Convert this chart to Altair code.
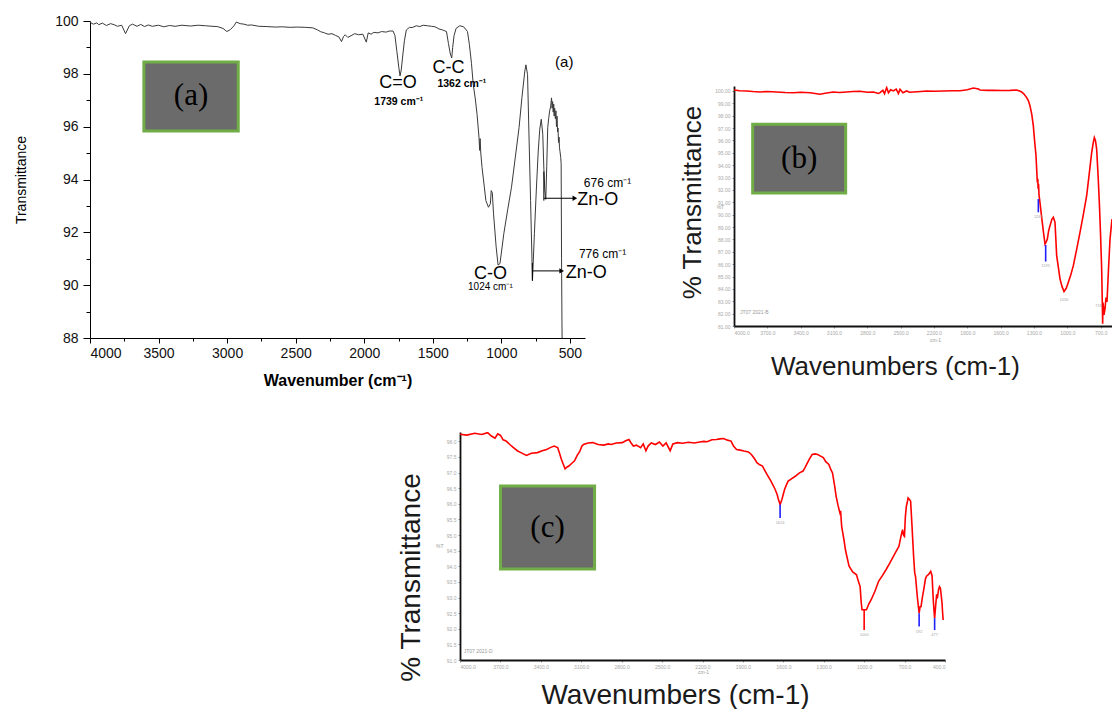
import altair as alt
import pandas as pd

SANS = "Liberation Sans"
SERIF = "Liberation Serif"
RED = "#ff0000"
BLUE = "#2020ff"
BOX_FILL = "#6b6b6b"
BOX_EDGE = "#70ad47"
TINY = "#a8a8a8"

# ---------------- (a) ZnO spectrum: wavenumber (cm-1) / transmittance (%) ----------------
a_wn = [4000, 3975, 3950, 3936, 3910, 3880, 3850, 3824, 3800, 3769, 3741, 3713, 3690, 3657,
        3630, 3602, 3575, 3546, 3500, 3462, 3420, 3379, 3330, 3267, 3210, 3156, 3110, 3072,
        3030, 3002, 2975, 2950, 2933, 2905, 2877, 2850, 2821, 2770, 2710, 2650, 2598, 2540,
        2487, 2430, 2375, 2340, 2320, 2290, 2264, 2235, 2208, 2185, 2166, 2150, 2139, 2120,
        2097, 2070, 2041, 2010, 1985, 1971, 1950, 1930, 1900, 1874, 1840, 1818, 1790, 1776,
        1762, 1748, 1739, 1730, 1721, 1707, 1693, 1670, 1651, 1620, 1595, 1570, 1539, 1510,
        1484, 1455, 1428, 1400, 1386, 1372, 1362, 1355, 1345, 1330, 1303, 1275, 1247, 1233,
        1218, 1205, 1190, 1177, 1163, 1158, 1155, 1150, 1141, 1124, 1113, 1094, 1080, 1074,
        1066, 1057, 1038, 1024, 1010, 982, 954, 926, 898, 871, 850, 829, 821, 809, 801, 787,
        773, 759, 745, 731, 720, 709, 698, 690, 683, 676, 669, 662, 655, 648, 641, 634, 630,
        626, 622, 618, 615, 611, 606, 602, 598, 594, 590, 587, 583, 579, 576, 572, 567, 564,
        561, 558, 556]
a_tr = [99.95, 99.88, 99.93, 99.86, 99.92, 99.83, 99.90, 99.86, 99.80, 99.84, 99.52, 99.82, 99.88, 99.80,
        99.87, 99.79, 99.85, 99.80, 99.84, 99.78, 99.83, 99.80, 99.84, 99.81, 99.84, 99.82, 99.80, 99.79,
        99.72, 99.60, 99.68, 99.82, 99.96, 99.90, 99.88, 99.84, 99.85, 99.80, 99.79, 99.77, 99.78, 99.76,
        99.77, 99.76, 99.74, 99.66, 99.60, 99.55, 99.50, 99.52, 99.45, 99.40, 99.22, 99.42, 99.48, 99.38,
        99.44, 99.52, 99.48, 99.50, 99.20, 99.55, 99.50, 99.57, 99.55, 99.60, 99.58, 99.62, 99.62, 99.45,
        98.85, 98.25, 97.92, 98.15, 98.60, 99.25, 99.66, 99.76, 99.75, 99.82, 99.79, 99.84, 99.82, 99.80,
        99.78, 99.70, 99.66, 99.60, 99.15, 98.75, 98.60, 99.00, 99.45, 99.72, 99.82, 99.78, 99.60, 99.10,
        98.40, 97.60, 97.05, 96.46, 95.59, 95.10, 95.55, 95.00, 94.46, 93.71, 93.20, 92.95, 93.08, 93.58,
        93.50, 92.70, 91.45, 90.76, 90.82, 91.95, 92.85, 93.71, 94.85, 95.96, 97.10, 98.10, 98.34, 97.97,
        96.21, 93.20,
        90.19, 91.95, 93.60, 95.08, 95.90, 96.28, 95.71, 94.40, 93.60, 93.25, 94.50, 95.96, 96.30, 96.59,
        96.75, 97.09, 96.70,
        96.95, 96.55, 96.85, 96.40, 96.70, 96.30, 96.60, 96.00, 96.40, 95.80, 95.95, 95.40, 95.60, 95.20,
        95.05, 94.83, 94.60,
        91.00, 88.60, 87.50]

# (a) band annotations
a_note_text = ["C=O", "C-C", "C-O", "1024 cm⁻¹", "(a)", "676 cm⁻¹", "Zn-O", "776 cm⁻¹", "Zn-O"]
a_note_wn = [1754, 1386, 1080, 1080, 541, 226, 297, 262, 381]
a_note_tr = [97.65, 98.22, 90.42, 89.93, 98.45, 93.87, 93.22, 91.19, 90.47]
a_note_size = [18, 18, 18, 10, 15, 12, 18, 12, 18]
a_bold_text = ["1739 cm⁻¹", "1362 cm⁻¹"]
a_bold_wn = [1748, 1288]
a_bold_tr = [96.93, 97.61]

# (a) arrows from the Zn-O bands to their labels
a_seg_wn = [690, 690, 774, 774]
a_seg_wn2 = [690, 470, 774, 566]
a_seg_tr = [94.30, 93.29, 90.84, 90.54]
a_seg_tr2 = [93.20, 93.29, 90.16, 90.54]
a_head_wn = [464, 560]
a_head_tr = [93.29, 90.54]

# ---------------- (b) spectrum ----------------
b_wn = [4000, 3950, 3886, 3830, 3766, 3700, 3616, 3540, 3466, 3400, 3316, 3270, 3226, 3180,
        3106, 3050, 2986, 2930, 2866, 2800, 2746, 2700, 2686, 2660, 2645, 2626, 2610, 2590,
        2566, 2540, 2520, 2506, 2480, 2446, 2420, 2386, 2320, 2266, 2200, 2116, 2040, 1966,
        1900, 1846, 1800, 1786, 1720, 1666, 1590, 1516, 1456, 1430, 1411, 1390, 1366, 1350,
        1336, 1320, 1306, 1295, 1282, 1270, 1266, 1263, 1259, 1255, 1245, 1231, 1215, 1201,
        1190, 1180, 1168, 1156, 1140, 1126, 1111, 1096, 1080, 1066, 1048, 1030, 1010, 991,
        970, 946, 916, 886, 856, 826, 803, 781, 767, 757, 747, 736, 724, 712, 701, 691, 686,
        682, 679, 676, 670, 661, 652, 643, 630, 616, 598]
b_tr = [100.08, 100.02, 100.00, 99.95, 99.92, 99.95, 99.92, 99.88, 99.86, 99.90, 99.86, 99.80, 99.73, 99.82,
        99.92, 99.88, 99.92, 99.95, 99.97, 99.90, 99.92, 99.80, 99.86, 100.05, 99.78, 100.27, 99.85, 100.10,
        100.00, 100.15, 99.80, 100.13, 99.85, 100.00, 99.90, 99.92, 99.96, 100.00, 99.98, 100.00, 100.02, 100.02,
        100.10, 100.24, 100.15, 100.08, 100.05, 100.05, 100.04, 100.05, 100.08, 100.00, 99.92, 99.75, 99.46, 99.20,
        98.79, 98.10, 97.17, 96.00, 94.76, 92.61, 92.90, 92.10, 92.50, 91.60, 90.90, 89.78, 88.60, 87.63,
        87.80, 88.03, 88.70, 89.11, 89.60, 89.78, 89.38, 86.69, 85.70, 84.81, 84.20, 83.79, 84.05, 84.54,
        85.10, 85.88, 87.20, 88.57, 90.00, 91.53, 93.30, 95.02, 95.80, 96.23, 96.00, 95.29, 93.30, 90.99, 88.40, 85.62, 83.20,
        81.18, 82.90, 82.66, 81.90, 82.39, 83.30, 82.95, 85.50, 88.00, 89.65]

# (b) picked peaks
b_pk_wn = [1261, 1195]
b_pk_top = [91.26, 87.55]
b_pk_bot = [90.19, 86.21]
b_pk_label_wn = [1261, 1195, 1030, 718]
b_pk_label_tr = [89.97, 86.00, 83.25, 82.80]

# ---------------- (c) spectrum ----------------
c_wn = [4000, 3950, 3890, 3840, 3795, 3767, 3740, 3720, 3699, 3680, 3658, 3630, 3603, 3575,
        3548, 3507, 3470, 3425, 3390, 3357, 3330, 3302, 3275, 3260, 3247, 3232, 3220, 3205,
        3192, 3170, 3151, 3130, 3110, 3095, 3083, 3050, 3014, 2975, 2932, 2900, 2878, 2840,
        2795, 2770, 2746, 2730, 2713, 2690, 2659, 2640, 2620, 2604, 2580, 2549, 2520, 2494,
        2470, 2440, 2420, 2385, 2350, 2303, 2260, 2221, 2190, 2166, 2130, 2097, 2070, 2043,
        2015, 1988, 1970, 1947, 1920, 1892, 1860, 1837, 1815, 1796, 1775, 1755, 1735, 1714,
        1695, 1673, 1660, 1646, 1635, 1624, 1610, 1591, 1578, 1564, 1540, 1509, 1480, 1454,
        1440, 1427, 1405, 1386, 1365, 1345, 1320, 1303, 1285, 1262, 1248, 1235, 1220, 1208,
        1194, 1180, 1175, 1167, 1150, 1139, 1125, 1112, 1085, 1057, 1045, 1030, 1022, 1016,
        1000, 983, 965, 948, 920, 893, 865, 838, 810, 783, 760, 742, 725, 715, 708, 701,
        694, 687, 680, 674, 665, 655, 645, 633, 625, 619, 605, 592, 585, 578, 567, 556,
        545, 537, 520, 506, 496, 488, 482, 477, 472, 468, 462, 455, 448, 441, 434, 427,
        422, 419, 414]
c_tr = [98.23, 98.20, 98.26, 98.22, 98.28, 98.17, 98.10, 98.24, 98.19, 98.05, 98.01, 97.90, 97.80, 97.70,
        97.64, 97.55, 97.62, 97.64, 97.70, 97.74, 97.80, 97.85, 97.80, 97.60, 97.42, 97.25, 97.12, 97.18,
        97.21, 97.30, 97.37, 97.55, 97.69, 97.85, 97.90, 97.95, 97.96, 97.90, 97.88, 97.92, 97.90, 97.95,
        97.96, 98.02, 98.06, 97.95, 97.85, 97.88, 97.80, 97.92, 97.70, 97.85, 97.95, 97.90, 97.98, 97.85,
        97.95, 97.70, 97.92, 97.96, 97.94, 97.97, 97.95, 97.98, 98.00, 97.99, 98.05, 98.06, 98.08, 98.09,
        98.04, 98.01, 97.85, 97.74, 97.72, 97.69, 97.66, 97.58, 97.45, 97.32, 97.25, 97.21, 97.05, 96.89,
        96.75, 96.57, 96.45, 96.30, 96.12, 95.98, 96.15, 96.46, 96.60, 96.73, 96.80, 96.89, 96.99, 97.05,
        97.15, 97.26, 97.45, 97.58, 97.60, 97.58, 97.52, 97.48, 97.35, 97.26, 97.10, 96.99, 96.60, 96.24,
        95.95, 95.71, 95.78, 95.28, 94.85, 94.53, 94.25, 94.00, 93.82, 93.73, 93.55, 93.35, 92.85, 92.61,
        92.61, 92.61, 92.80, 92.93, 93.20, 93.52, 93.70, 93.89, 94.10, 94.32, 94.50, 94.64, 95.00, 95.17, 95.00, 94.96,
        95.60, 95.92, 96.05, 96.19, 96.15, 96.08, 95.30, 94.32, 93.80, 93.68, 93.00, 92.50, 92.70, 92.71, 93.03, 93.30,
        93.60, 93.68, 93.75, 93.84, 93.70, 93.00, 92.60, 92.34, 92.60, 92.80, 93.10, 93.03, 93.25, 93.35, 93.30, 93.03,
        92.82, 92.60, 92.28]

# (c) picked peaks
c_pk_wn = [1624, 1000, 592, 477]
c_pk_top = [95.98, 92.61, 92.50, 92.34]
c_pk_bot = [95.55, 91.96, 92.07, 91.96]
c_pk_color = [BLUE, RED, BLUE, BLUE]
c_pk_label_tr = [95.45, 91.86, 91.97, 91.86]

# ---------------- helpers ----------------
def xenc(domain, axis):
    return alt.X("wn:Q", scale=alt.Scale(domain=domain, nice=False, zero=False), axis=axis)


def yenc(domain, axis):
    return alt.Y("tr:Q", scale=alt.Scale(domain=domain, nice=False, zero=False), axis=axis)


def box_layers(x, y, wn1, wn2, t1, t2, label):
    box = alt.Chart(pd.DataFrame({"wn": [wn1], "wn2": [wn2], "tr": [t1], "tr2": [t2]})).mark_rect(
        fill=BOX_FILL, stroke=BOX_EDGE, strokeWidth=3
    ).encode(x=x, x2="wn2:Q", y=y, y2="tr2:Q")
    txt = alt.Chart(pd.DataFrame({"wn": [(wn1 + wn2) / 2], "tr": [(t1 + t2) / 2], "s": [label]})).mark_text(
        font=SERIF, fontSize=31, color="#000000", align="center", baseline="middle"
    ).encode(x=x, y=y, text="s:N")
    return [box, txt]


# ---------------- panel (a) ----------------
A_DOM_X = [4000, 390]
A_DOM_Y = [88, 100]
ax_a = alt.Axis(
    values=list(range(4000, 499, -250)),
    labelExpr="datum.value % 500 === 0 ? datum.label : ''",
    tickSize={"condition": {"test": "datum.value % 500 === 0", "value": 5}, "value": 3},
    format="d", labelFontSize=14, labelColor="#111111", labelPadding=3, labelFont=SANS,
    domainColor="#000000", tickColor="#000000", grid=False,
    title="Wavenumber (cm⁻¹)", titleFont=SANS, titleFontSize=16, titleFontWeight="bold",
    titleColor="#000000", titlePadding=12,
)
ay_a = alt.Axis(
    values=list(range(88, 101)),
    labelExpr="datum.value % 2 === 0 ? datum.label : ''",
    tickSize={"condition": {"test": "datum.value % 2 === 0", "value": 7}, "value": 4},
    format="d", labelFontSize=14, labelColor="#111111", labelPadding=5, labelFont=SANS,
    domainColor="#000000", tickColor="#000000", grid=False,
    title="Transmittance", titleFont=SANS, titleFontSize=14, titleFontWeight="normal",
    titleColor="#000000", titlePadding=26,
)
xa = xenc(A_DOM_X, ax_a)
ya = yenc(A_DOM_Y, ay_a)

df_a = pd.DataFrame({"wn": a_wn, "tr": a_tr, "i": list(range(len(a_wn)))})
a_line = alt.Chart(df_a).mark_line(color="#3a3a3a", strokeWidth=1, clip=True).encode(
    x=xa, y=ya, order="i:Q")
a_notes = alt.Chart(pd.DataFrame({"wn": a_note_wn, "tr": a_note_tr, "s": a_note_text, "fs": a_note_size})).mark_text(
    font=SANS, color="#000000", align="center", baseline="middle"
).encode(x=xa, y=ya, text="s:N", size=alt.Size("fs:Q", scale=None))
a_bold = alt.Chart(pd.DataFrame({"wn": a_bold_wn, "tr": a_bold_tr, "s": a_bold_text})).mark_text(
    font=SANS, fontSize=10.5, fontWeight="bold", color="#000000", align="center", baseline="middle"
).encode(x=xa, y=ya, text="s:N")
a_segs = alt.Chart(pd.DataFrame({"wn": a_seg_wn, "wn2": a_seg_wn2, "tr": a_seg_tr, "tr2": a_seg_tr2})).mark_rule(
    color="#000000", strokeWidth=1
).encode(x=xa, x2="wn2:Q", y=ya, y2="tr2:Q")
a_heads = alt.Chart(pd.DataFrame({"wn": a_head_wn, "tr": a_head_tr})).mark_point(
    shape="triangle-right", filled=True, size=28, color="#000000", opacity=1
).encode(x=xa, y=ya)

panel_a = alt.layer(
    a_line, *box_layers(xa, ya, 3607, 2919, 98.45, 95.84, "(a)"), a_notes, a_bold, a_segs, a_heads
).properties(width=495, height=317)


# ---------------- panels (b) and (c): instrument-style axes ----------------
def tiny_axis(values, fmt, title, tx, ty, tsize, baseline="middle", angle=0):
    kw = dict(
        values=values, format=fmt, labelFontSize=5, labelColor=TINY, labelFont=SANS,
        labelPadding=2, ticks=True, tickSize=2, tickColor="#9a9a9a",
        domainColor="#111111", domainWidth=1.8, grid=False, labelOverlap=False,
        title=title, titleFont=SANS, titleFontSize=tsize, titleFontWeight="normal",
        titleColor="#1a1a1a", titleX=tx, titleY=ty, titleAlign="center", titleBaseline=baseline,
    )
    if angle:
        kw["titleAngle"] = angle
    return alt.Axis(**kw)


B_DOM_X = [4000, 598]
B_DOM_Y = [81.0, 100.4]
xb = xenc(B_DOM_X, tiny_axis(list(range(4000, 699, -300)), ".1f", "Wavenumbers (cm-1)", 161, 40, 26))
yb = yenc(B_DOM_Y, tiny_axis(list(range(81, 101)), ".2f", "% Transmittance", -42, 116, 26, angle=270))

df_b = pd.DataFrame({"wn": b_wn, "tr": b_tr, "i": list(range(len(b_wn)))})
b_line = alt.Chart(df_b).mark_line(color=RED, strokeWidth=1.6, clip=True).encode(x=xb, y=yb, order="i:Q")
b_pk = alt.Chart(pd.DataFrame({"wn": b_pk_wn, "tr": b_pk_top, "tr2": b_pk_bot})).mark_rule(
    color=BLUE, strokeWidth=1.6).encode(x=xb, y=yb, y2="tr2:Q")
b_pk_txt = alt.Chart(pd.DataFrame({"wn": b_pk_label_wn, "tr": b_pk_label_tr,
                                   "s": [str(v) for v in b_pk_label_wn]})).mark_text(
    font=SANS, fontSize=4, color=TINY, baseline="top").encode(x=xb, y=yb, text="s:N")
b_misc = alt.Chart(pd.DataFrame({"wn": [3946, 4156, 2236], "tr": [82.15, 90.59, 79.85],
                                 "s": ["JT07 2021-B", "%T", "cm-1"]})).mark_text(
    font=SANS, fontSize=5, color="#9a9a9a", align="left", baseline="middle").encode(x=xb, y=yb, text="s:N")

panel_b = alt.layer(
    b_line, *box_layers(xb, yb, 3832, 2995, 97.31, 91.745, "(b)"), b_pk, b_pk_txt, b_misc
).properties(width=378, height=240)

C_DOM_X = [4000, 400]
C_DOM_Y = [91.0, 98.3]
xc = xenc(C_DOM_X, tiny_axis(list(range(4000, 399, -300)), ".1f", "Wavenumbers (cm-1)", 215, 43, 28,
                             baseline="alphabetic"))
yc = yenc(C_DOM_Y, tiny_axis([91 + 0.5 * k for k in range(15)], ".1f", "% Transmittance", -49, 145, 28,
                             angle=270))

df_c = pd.DataFrame({"wn": c_wn, "tr": c_tr, "i": list(range(len(c_wn)))})
c_line = alt.Chart(df_c).mark_line(color=RED, strokeWidth=1.6, clip=True).encode(x=xc, y=yc, order="i:Q")
c_pk = alt.Chart(pd.DataFrame({"wn": c_pk_wn, "tr": c_pk_top, "tr2": c_pk_bot, "c": c_pk_color})).mark_rule(
    strokeWidth=1.6).encode(x=xc, y=yc, y2="tr2:Q", color=alt.Color("c:N", scale=None))
c_pk_txt = alt.Chart(pd.DataFrame({"wn": c_pk_wn, "tr": c_pk_label_tr,
                                   "s": [str(v) for v in c_pk_wn]})).mark_text(
    font=SANS, fontSize=4, color=TINY, baseline="top").encode(x=xc, y=yc, text="s:N")
c_misc = alt.Chart(pd.DataFrame({"wn": [3973, 4178, 2234], "tr": [91.30, 94.66, 90.63],
                                 "s": ["JT07 2021-D", "%T", "cm-1"]})).mark_text(
    font=SANS, fontSize=5, color="#9a9a9a", align="left", baseline="middle").encode(x=xc, y=yc, text="s:N")

panel_c = alt.layer(
    c_line, *box_layers(xc, yc, 3699, 3001, 96.57, 93.91, "(c)"), c_pk, c_pk_txt, c_misc
).properties(width=485, height=228)


# ---------------- layout ----------------
def spacer(w, h):
    return alt.Chart(pd.DataFrame({"v": [0]})).mark_point(opacity=0).encode(
        x=alt.X("v:Q", axis=None), y=alt.Y("v:Q", axis=None)
    ).properties(width=w, height=h)


col_b = alt.vconcat(spacer(1, 65), panel_b, spacing=0)
row1 = alt.hconcat(panel_a, col_b, spacing=46)
row2 = alt.hconcat(spacer(307, 1), panel_c, spacing=0)

chart = alt.vconcat(row1, row2, spacing=41).properties(
    padding={"left": 14, "top": 14, "right": 0, "bottom": 0},
    background="#ffffff",
).configure(font=SANS).configure_view(stroke=None)

chart.save("out.html", embed_options={"renderer": "svg", "actions": False})
